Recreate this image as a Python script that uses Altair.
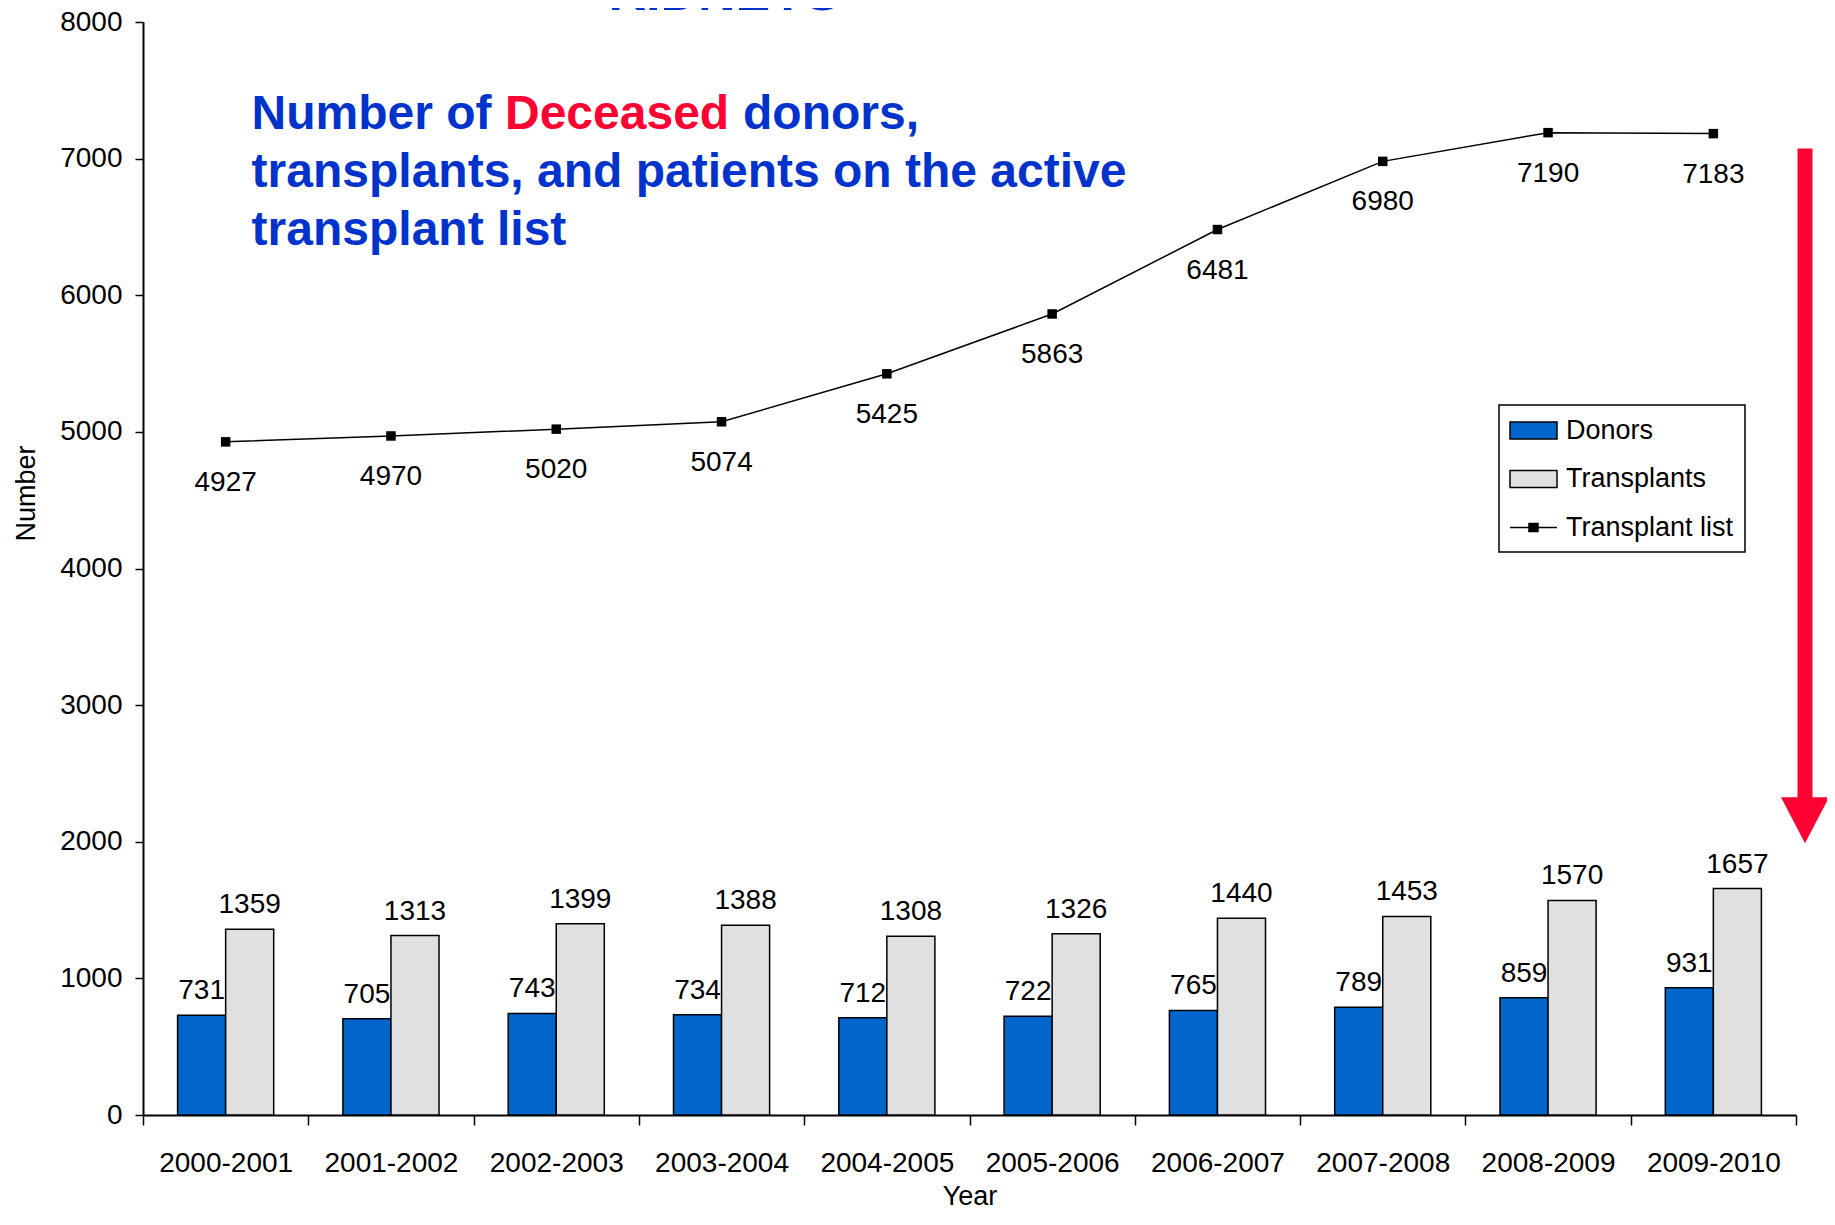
import altair as alt
import pandas as pd

years = ["2000-2001", "2001-2002", "2002-2003", "2003-2004", "2004-2005",
         "2005-2006", "2006-2007", "2007-2008", "2008-2009", "2009-2010"]
donors = [731, 705, 743, 734, 712, 722, 765, 789, 859, 931]
transplants = [1359, 1313, 1399, 1388, 1308, 1326, 1440, 1453, 1570, 1657]
waitlist = [4927, 4970, 5020, 5074, 5425, 5863, 6481, 6980, 7190, 7183]

series_names = ["Donors", "Transplants", "Transplant list"]
series_colors = ["#0066CC", "#E0E0E0", "#000000"]
y_ticks = [0, 1000, 2000, 3000, 4000, 5000, 6000, 7000, 8000]

FONT = "Liberation Sans"
W, H = 1653, 1093
BLUE = "#0033CC"
RED = "#FF0033"

bars_df = pd.DataFrame({
    "year": years * 2,
    "series": ["Donors"] * len(years) + ["Transplants"] * len(years),
    "value": donors + transplants,
})
line_df = pd.DataFrame({"year": years, "value": waitlist})
legend_df = pd.DataFrame({"series": series_names})
one = pd.DataFrame({"a": [0]})

# legend symbol paths (unit = 13.5 px, symbolSize 729)
rect_path = "M-1.074,-0.63H2.407V0.63H-1.074Z"
line_path = "M-1.074,0H2.407M0.333,-0.3H1V0.3H0.333Z"

legend_def = alt.Legend(
    title=None, orient="none", legendX=1356, legendY=383,
    padding=11, rowPadding=20.5, labelFontSize=27, labelOffset=27, labelLimit=400,
    labelFont=FONT, labelColor="black", symbolSize=729,
    symbolStrokeColor="black", symbolStrokeWidth=1.5,
    strokeColor="black", fillColor="white",
)

x_scale = alt.Scale(domain=years, paddingInner=0, paddingOuter=0)
x_axis = alt.Axis(title="Year", tickBand="extent", labelAngle=0, tickSize=10,
                  labelPadding=24, titleY=89, titleBaseline="alphabetic",
                  labelFontSize=28)
y_scale = alt.Scale(domain=[0, 8000], nice=False)
y_axis = alt.Axis(title="Number", values=y_ticks, tickSize=8, labelPadding=13,
                  titleX=-117, titleY=471, titleBaseline="middle",
                  labelFontSize=28, format="d")

color_enc = alt.Color("series:N", scale=alt.Scale(domain=series_names, range=series_colors),
                      legend=legend_def)
xoff = alt.XOffset("series:N", scale=alt.Scale(domain=["Donors", "Transplants"],
                                               paddingOuter=0.72, paddingInner=0))

base_x = alt.X("year:N", sort=years, scale=x_scale, axis=x_axis)
base_y = alt.Y("value:Q", scale=y_scale, axis=y_axis)

bars = alt.Chart(bars_df).mark_bar(stroke="black", strokeWidth=1.5).encode(
    x=base_x, y=base_y, xOffset=xoff, color=color_enc)

bar_labels = alt.Chart(bars_df).mark_text(
    baseline="alphabetic", dy=-16, fontSize=28, font=FONT, color="black"
).encode(x=base_x, y=base_y, xOffset=xoff, text=alt.Text("value:Q"))

line = alt.Chart(line_df).mark_line(color="black", strokeWidth=1.5).encode(
    x=base_x, y=base_y)
markers = alt.Chart(line_df).mark_square(size=90, color="black", opacity=1).encode(
    x=base_x, y=base_y)
line_labels = alt.Chart(line_df).mark_text(
    baseline="alphabetic", dy=49, fontSize=28, font=FONT, color="black"
).encode(x=base_x, y=base_y, text=alt.Text("value:Q"))

legend_layer = alt.Chart(legend_df).transform_filter("false").mark_point(
    filled=True, opacity=1, stroke="black", strokeWidth=1.5
).encode(
    color=color_enc,
    shape=alt.Shape("series:N", scale=alt.Scale(domain=series_names,
                                                range=[rect_path, rect_path, line_path]),
                    legend=legend_def),
)

def txt(s, x, y, color, size=48, align="left"):
    return alt.Chart(one).mark_text(
        text=s, align=align, baseline="alphabetic", fontSize=size,
        fontWeight="bold", font=FONT, color=color
    ).encode(x=alt.value(x), y=alt.value(y))

t_kid = txt("KIDNEYS", 581, -12, BLUE, size=52, align="center")
t1a = txt("Number of", 108.6, 107.3, BLUE)
t1b = txt("Deceased", 362, 107.3, RED)
t1c = txt("donors,", 600, 107.3, BLUE)
t2 = txt("transplants, and patients on the active", 108.6, 164.7, BLUE)
t3 = txt("transplant list", 108.6, 223, BLUE)

arrow_shaft = alt.Chart(one).mark_rule(color=RED, strokeWidth=15).encode(
    x=alt.value(1662), y=alt.value(126.6), y2=alt.value(781))
arrow_head = alt.Chart(one).mark_point(
    shape="M-1,-0.957L1,-0.957L0,0.957Z", size=2304, filled=True, color=RED, opacity=1
).encode(x=alt.value(1662), y=alt.value(798.3))

chart = alt.layer(
    bars, bar_labels, line, markers, line_labels, legend_layer,
    t_kid, t1a, t1b, t1c, t2, t3, arrow_shaft, arrow_head
).properties(
    width=W, height=H,
    autosize=alt.AutoSizeParams(type="none"),
    padding={"left": 135, "top": 14, "right": 31, "bottom": 97},
).configure_view(stroke=None).configure_axis(
    grid=False, domainColor="black", domainWidth=2, tickColor="black", tickWidth=1.5,
    labelColor="black", labelFont=FONT, titleFont=FONT, titleFontSize=27,
    titleFontWeight="normal", titleColor="black",
).configure_legend(strokeWidth=1.5).configure_text(font=FONT)

chart.save("out.html", embed_options={"renderer": "svg", "actions": False})
